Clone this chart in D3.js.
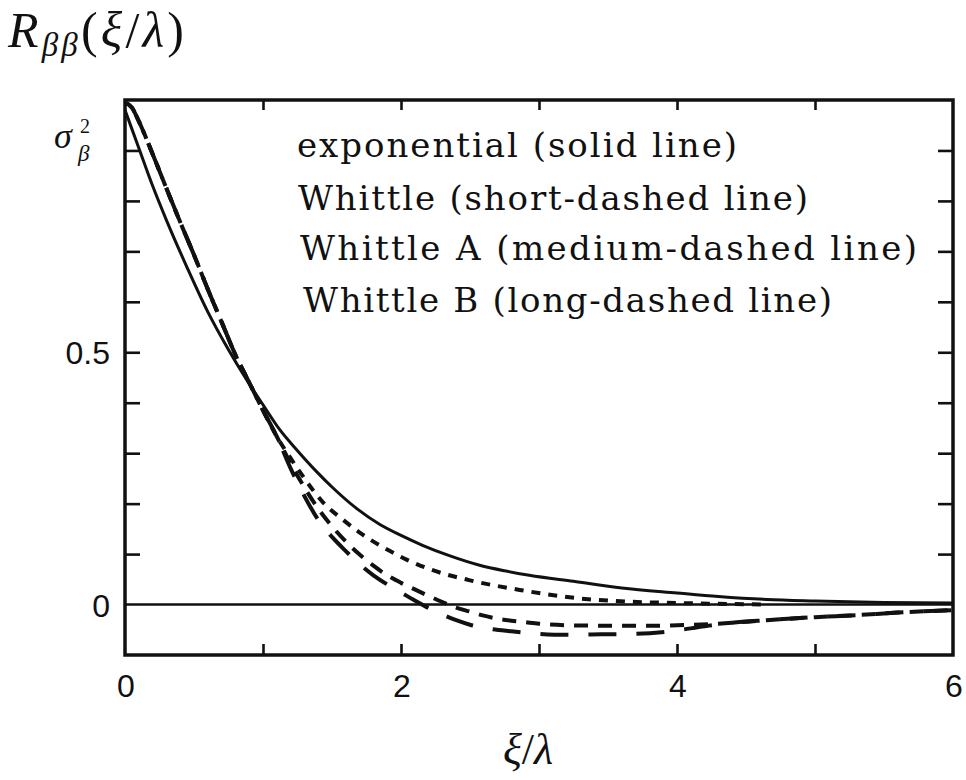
<!DOCTYPE html>
<html>
<head>
<meta charset="utf-8">
<script src="https://cdn.jsdelivr.net/npm/d3@7"></script>
<style>
  html, body { margin: 0; padding: 0; background: #fff; }
  svg { display: block; }
</style>
</head>
<body>
<svg id="chart" width="966" height="780"></svg>
<script>
// Correlation functions R_ββ(ξ/λ) for four covariance models

// exponential model (solid)
const expX = [0, 0.1, 0.2, 0.3, 0.45, 0.6, 0.75, 0.88, 1.0, 1.12, 1.25, 1.39, 1.5, 1.68, 1.85, 2.0, 2.16, 2.35, 2.57, 2.75, 2.93, 3.25, 3.6, 4.0, 4.3, 4.65, 5.0, 5.5, 6.0];
const expY = [0.98, 0.905, 0.83, 0.762, 0.668, 0.58, 0.505, 0.446, 0.396, 0.347, 0.305, 0.263, 0.233, 0.19, 0.158, 0.137, 0.117, 0.097, 0.078, 0.067, 0.058, 0.046, 0.033, 0.023, 0.016, 0.01, 0.007, 0.004, 0.003];

// Whittle model (short dashes)
const whittleX = [0, 0.05, 0.1, 0.2, 0.3, 0.4, 0.5, 0.6, 0.7, 0.8, 0.9, 1.0, 1.1, 1.2, 1.3, 1.43, 1.58, 1.72, 1.9, 2.04, 2.23, 2.5, 2.86, 3.3, 3.55, 4.0, 4.3, 4.65];
const whittleY = [0.995, 0.985, 0.958, 0.893, 0.825, 0.758, 0.693, 0.625, 0.56, 0.495, 0.44, 0.385, 0.333, 0.29, 0.25, 0.204, 0.168, 0.139, 0.109, 0.089, 0.068, 0.048, 0.029, 0.012, 0.007, 0.003, 0.0015, 0.0];

// Whittle A model (medium dashes)
const whittleAX = [0, 0.05, 0.1, 0.2, 0.3, 0.4, 0.5, 0.6, 0.7, 0.8, 0.9, 1.0, 1.1, 1.2, 1.3, 1.4, 1.5, 1.6, 1.7, 1.8, 1.9, 2.0, 2.1, 2.2, 2.3, 2.4, 2.5, 2.6, 2.7, 2.8, 2.9, 3.0, 3.2, 3.5, 3.8, 4.0, 4.3, 4.65, 5.0, 5.3, 5.6, 6.0];
const whittleAY = [0.995, 0.985, 0.958, 0.893, 0.825, 0.758, 0.693, 0.625, 0.56, 0.495, 0.44, 0.385, 0.333, 0.28, 0.232, 0.19, 0.155, 0.125, 0.099, 0.077, 0.058, 0.043, 0.030, 0.017, 0.005, -0.006, -0.014, -0.022, -0.028, -0.032, -0.035, -0.038, -0.041, -0.042, -0.042, -0.041, -0.038, -0.031, -0.025, -0.021, -0.016, -0.011];

// Whittle B model (long dashes)
const whittleBX = [0, 0.05, 0.1, 0.2, 0.3, 0.4, 0.5, 0.6, 0.7, 0.8, 0.9, 1.0, 1.1, 1.2, 1.3, 1.4, 1.5, 1.6, 1.7, 1.8, 1.9, 2.0, 2.1, 2.2, 2.3, 2.4, 2.5, 2.6, 2.8, 3.0, 3.2, 3.45, 3.7, 3.95, 4.2, 4.4, 4.65, 5.0, 5.3, 5.6, 6.0];
const whittleBY = [0.995, 0.985, 0.958, 0.893, 0.825, 0.758, 0.693, 0.625, 0.56, 0.495, 0.44, 0.385, 0.333, 0.27, 0.215, 0.168, 0.134, 0.106, 0.08, 0.058, 0.04, 0.024, 0.008, -0.007, -0.02, -0.031, -0.04, -0.046, -0.053, -0.058, -0.06, -0.059, -0.058, -0.053, -0.043, -0.036, -0.031, -0.025, -0.021, -0.016, -0.011];

// legend lines
const legendLabels = [
  "exponential (solid line)",
  "Whittle (short-dashed line)",
  "Whittle A (medium-dashed line)",
  "Whittle B (long-dashed line)"
];

// axis ticks and labels
const xTicks = [1, 2, 3, 4, 5];
const xLabelValues = [0, 2, 4, 6];
const xLabelTexts = ["0", "2", "4", "6"];
const yTicks = [0.1, 0.2, 0.3, 0.4, 0.5, 0.6, 0.7, 0.8, 0.9];
const yLabelValues = [0, 0.5];
const yLabelTexts = ["0", "0.5"];
const sigmaTickValue = 0.9;

const svg = d3.select("#chart");
const plotLeft = 125, plotRight = 953, plotTop = 100, plotBottom = 655;

const x = d3.scaleLinear().domain([0, 6]).range([plotLeft, plotRight]);
const y = d3.scaleLinear().domain([-0.1, 1.0]).range([plotBottom, plotTop]);

const ink = "#111";

// frame
svg.append("rect")
  .attr("x", plotLeft).attr("y", plotTop)
  .attr("width", plotRight - plotLeft).attr("height", plotBottom - plotTop)
  .attr("fill", "none").attr("stroke", ink).attr("stroke-width", 3.5);

// inward ticks on all four sides
function styleAxis(g) {
  g.select(".domain").remove();
  g.selectAll(".tick line").attr("stroke", ink).attr("stroke-width", 2.6);
  g.selectAll(".tick text").remove();
}
svg.append("g").attr("transform", `translate(${plotLeft},0)`)
  .call(d3.axisLeft(y).tickValues(yTicks).tickSize(-15)).call(styleAxis);
svg.append("g").attr("transform", `translate(${plotRight},0)`)
  .call(d3.axisRight(y).tickValues(yTicks).tickSize(-15)).call(styleAxis);
svg.append("g").attr("transform", `translate(0,${plotBottom})`)
  .call(d3.axisBottom(x).tickValues(xTicks).tickSize(-11)).call(styleAxis);
svg.append("g").attr("transform", `translate(0,${plotTop})`)
  .call(d3.axisTop(x).tickValues(xTicks).tickSize(-10)).call(styleAxis);

// zero line
svg.append("line")
  .attr("x1", x(0)).attr("x2", x(6))
  .attr("y1", y(0)).attr("y2", y(0))
  .attr("stroke", ink).attr("stroke-width", 2.6);

// tick labels
const tickFont = "'Liberation Sans', Arial, sans-serif";
svg.selectAll("text.ylab").data(yLabelValues).enter().append("text")
  .attr("class", "ylab")
  .attr("x", 110).attr("y", d => y(d) + 12)
  .attr("text-anchor", "end")
  .attr("font-family", tickFont).attr("font-size", 32).attr("fill", ink)
  .text((d, i) => yLabelTexts[i]);

svg.selectAll("text.xlab").data(xLabelValues).enter().append("text")
  .attr("class", "xlab")
  .attr("x", d => x(d) + 1).attr("y", 697)
  .attr("text-anchor", "middle")
  .attr("font-family", tickFont).attr("font-size", 32).attr("fill", ink)
  .text((d, i) => xLabelTexts[i]);

// sigma_beta^2 label at the variance tick
const mathFont = "'Liberation Serif', 'DejaVu Serif', serif";
const sy = y(sigmaTickValue);
svg.append("text").attr("x", 54).attr("y", sy - 2)
  .attr("font-family", mathFont).attr("font-style", "italic")
  .attr("font-size", 36).attr("fill", ink).text("σ");
svg.append("text").attr("x", 80).attr("y", sy - 17)
  .attr("font-family", mathFont).attr("font-size", 20).attr("fill", ink).text("2");
svg.append("text").attr("x", 78).attr("y", sy + 11)
  .attr("font-family", mathFont).attr("font-style", "italic")
  .attr("font-size", 23).attr("fill", ink).text("β");

// curves
const line = d3.line()
  .x(d => x(d[0])).y(d => y(d[1]))
  .curve(d3.curveMonotoneX);

const series = [
  { xs: expX, ys: expY, dash: null, width: 3 },
  { xs: whittleX, ys: whittleY, dash: "9,8", width: 4 },
  { xs: whittleAX, ys: whittleAY, dash: "14,10", width: 4 },
  { xs: whittleBX, ys: whittleBY, dash: "28,20", width: 4 }
];

series.forEach(s => {
  const pts = s.xs.map((v, i) => [v, s.ys[i]]);
  svg.append("path")
    .attr("d", line(pts))
    .attr("fill", "none")
    .attr("stroke", ink)
    .attr("stroke-width", s.width)
    .attr("stroke-linecap", "butt")
    .attr("stroke-dasharray", s.dash);
});

// legend text
const legendFont = "'DejaVu Serif', 'Liberation Serif', serif";
const legendX = [297, 298, 300, 303];
const legendBase = [157, 210, 260, 312];
const legendLen = [440, 510, 617, 529];
legendLabels.forEach((t, i) => {
  svg.append("text")
    .attr("x", legendX[i]).attr("y", legendBase[i])
    .attr("font-family", legendFont).attr("font-size", 34).attr("fill", ink)
    .attr("textLength", legendLen[i]).attr("lengthAdjust", "spacing")
    .text(t);
});

// y-axis title R_ββ(ξ/λ)
const yTitle = svg.append("text")
  .attr("x", 8).attr("y", 47)
  .attr("font-family", mathFont).attr("font-size", 50).attr("fill", ink)
  .attr("textLength", 176).attr("lengthAdjust", "spacing");
yTitle.append("tspan").attr("font-style", "italic").text("R");
yTitle.append("tspan").attr("font-style", "italic").attr("font-size", 33).attr("dy", 9).text("ββ");
yTitle.append("tspan").attr("dy", -9).text("(");
yTitle.append("tspan").attr("font-style", "italic").text("ξ");
yTitle.append("tspan").text("/");
yTitle.append("tspan").attr("font-style", "italic").text("λ");
yTitle.append("tspan").text(")");

// x-axis title ξ/λ
const xTitle = svg.append("text")
  .attr("x", 528).attr("y", 764)
  .attr("text-anchor", "middle")
  .attr("font-family", mathFont).attr("font-size", 44).attr("fill", ink);
xTitle.append("tspan").attr("font-style", "italic").text("ξ");
xTitle.append("tspan").text("/");
xTitle.append("tspan").attr("font-style", "italic").text("λ");
</script>
</body>
</html>
